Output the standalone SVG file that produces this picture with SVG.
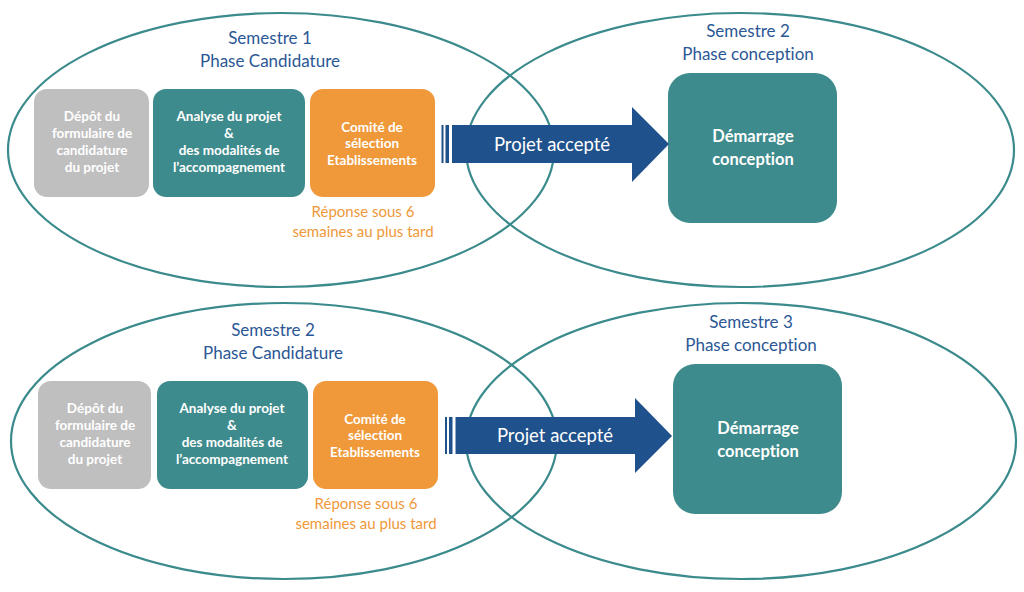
<svg xmlns="http://www.w3.org/2000/svg" width="1024" height="592" viewBox="0 0 1024 592">
<style>
text{font-variant-ligatures:none;font-feature-settings:"liga" 0,"dlig" 0}
.ell{fill:none;stroke:#3b8a8c;stroke-width:2.2}
.title{font-family:Lato,"Liberation Sans",sans-serif;font-size:17px;fill:#2b5795;text-anchor:middle}
.box{font-family:Lato,"Liberation Sans",sans-serif;font-size:13.5px;font-weight:bold;fill:#ffffff;text-anchor:middle}
.big{font-family:Lato,"Liberation Sans",sans-serif;font-size:16.5px;font-weight:bold;fill:#ffffff;text-anchor:middle}
.note{font-family:Lato,"Liberation Sans",sans-serif;font-size:15px;fill:#f0983a;text-anchor:middle}
.arrowtxt{font-family:Lato,"Liberation Sans",sans-serif;font-size:18.5px;fill:#ffffff;text-anchor:middle}
.grey{fill:#bfbfbf}
.teal{fill:#3e8b8d}
.orange{fill:#f0993a}
.arrow{fill:#1f518c}
</style>
<rect width="1024" height="592" fill="#ffffff"/>

<!-- Top row -->
<g id="semestre1-candidature">
  <ellipse class="ell" cx="281" cy="150" rx="273" ry="137"/>
  <text class="title" x="270" y="44">Semestre 1</text>
  <text class="title" x="270" y="67">Phase Candidature</text>
</g>
<g id="semestre2-conception">
  <ellipse class="ell" cx="740" cy="150" rx="274" ry="137"/>
  <text class="title" x="748" y="37">Semestre 2</text>
  <text class="title" x="748" y="60">Phase conception</text>
</g>
<g id="depot-1">
  <rect class="grey" x="34" y="89" width="115" height="108" rx="13"/>
  <text class="box" x="92" y="121">Dépôt du</text>
  <text class="box" x="92" y="138">formulaire de</text>
  <text class="box" x="92" y="155">candidature</text>
  <text class="box" x="92" y="172">du projet</text>
</g>
<g id="analyse-1">
  <rect class="teal" x="153" y="89" width="152" height="108" rx="13"/>
  <text class="box" x="229" y="121">Analyse du projet</text>
  <text class="box" x="229" y="138">&amp;</text>
  <text class="box" x="229" y="155">des modalités de</text>
  <text class="box" x="229" y="172">l’accompagnement</text>
</g>
<g id="comite-1">
  <rect class="orange" x="310" y="89" width="125" height="108" rx="13"/>
  <text class="box" x="372" y="132">Comité de</text>
  <text class="box" x="372" y="148">sélection</text>
  <text class="box" x="372" y="165">Etablissements</text>
  <text class="note" x="363" y="217">Réponse sous 6</text>
  <text class="note" x="363" y="237">semaines au plus tard</text>
</g>
<g id="demarrage-1">
  <rect class="teal" x="668" y="73" width="169" height="150" rx="22"/>
  <text class="big" x="753" y="142">Démarrage</text>
  <text class="big" x="753" y="165">conception</text>
</g>

<!-- Bottom row -->
<g id="semestre2-candidature">
  <ellipse class="ell" cx="284" cy="441" rx="273" ry="138"/>
  <text class="title" x="273" y="336">Semestre 2</text>
  <text class="title" x="273" y="359">Phase Candidature</text>
</g>
<g id="semestre3-conception">
  <ellipse class="ell" cx="741" cy="441" rx="275" ry="138"/>
  <text class="title" x="751" y="328">Semestre 3</text>
  <text class="title" x="751" y="351">Phase conception</text>
</g>
<g id="depot-2">
  <rect class="grey" x="38" y="381" width="113" height="108" rx="13"/>
  <text class="box" x="95" y="413">Dépôt du</text>
  <text class="box" x="95" y="430">formulaire de</text>
  <text class="box" x="95" y="447">candidature</text>
  <text class="box" x="95" y="464">du projet</text>
</g>
<g id="analyse-2">
  <rect class="teal" x="157" y="381" width="151" height="108" rx="13"/>
  <text class="box" x="232" y="413">Analyse du projet</text>
  <text class="box" x="232" y="430">&amp;</text>
  <text class="box" x="232" y="447">des modalités de</text>
  <text class="box" x="232" y="464">l’accompagnement</text>
</g>
<g id="comite-2">
  <rect class="orange" x="313" y="381" width="125" height="108" rx="13"/>
  <text class="box" x="375" y="424">Comité de</text>
  <text class="box" x="375" y="440">sélection</text>
  <text class="box" x="375" y="457">Etablissements</text>
  <text class="note" x="366" y="509">Réponse sous 6</text>
  <text class="note" x="366" y="529">semaines au plus tard</text>
</g>
<g id="demarrage-2">
  <rect class="teal" x="673" y="364" width="169" height="150" rx="22"/>
  <text class="big" x="758" y="434">Démarrage</text>
  <text class="big" x="758" y="457">conception</text>
</g>

<!-- Connectors -->
<g id="connectors">
  <g id="arrow-1">
    <rect class="arrow" x="441.5" y="125" width="2" height="38"/>
    <rect class="arrow" x="445.5" y="125" width="3.5" height="38"/>
    <polygon class="arrow" points="452,125 632,125 632,107 669,144 632,182 632,163 452,163"/>
    <text class="arrowtxt" x="552" y="151">Projet accepté</text>
  </g>
  <g id="arrow-2">
    <rect class="arrow" x="445" y="417" width="2" height="37"/>
    <rect class="arrow" x="449" y="417" width="3.5" height="37"/>
    <polygon class="arrow" points="455.5,417 635,417 635,398 672,436 635,473 635,454 455.5,454"/>
    <text class="arrowtxt" x="555" y="442">Projet accepté</text>
  </g>
</g>
</svg>
